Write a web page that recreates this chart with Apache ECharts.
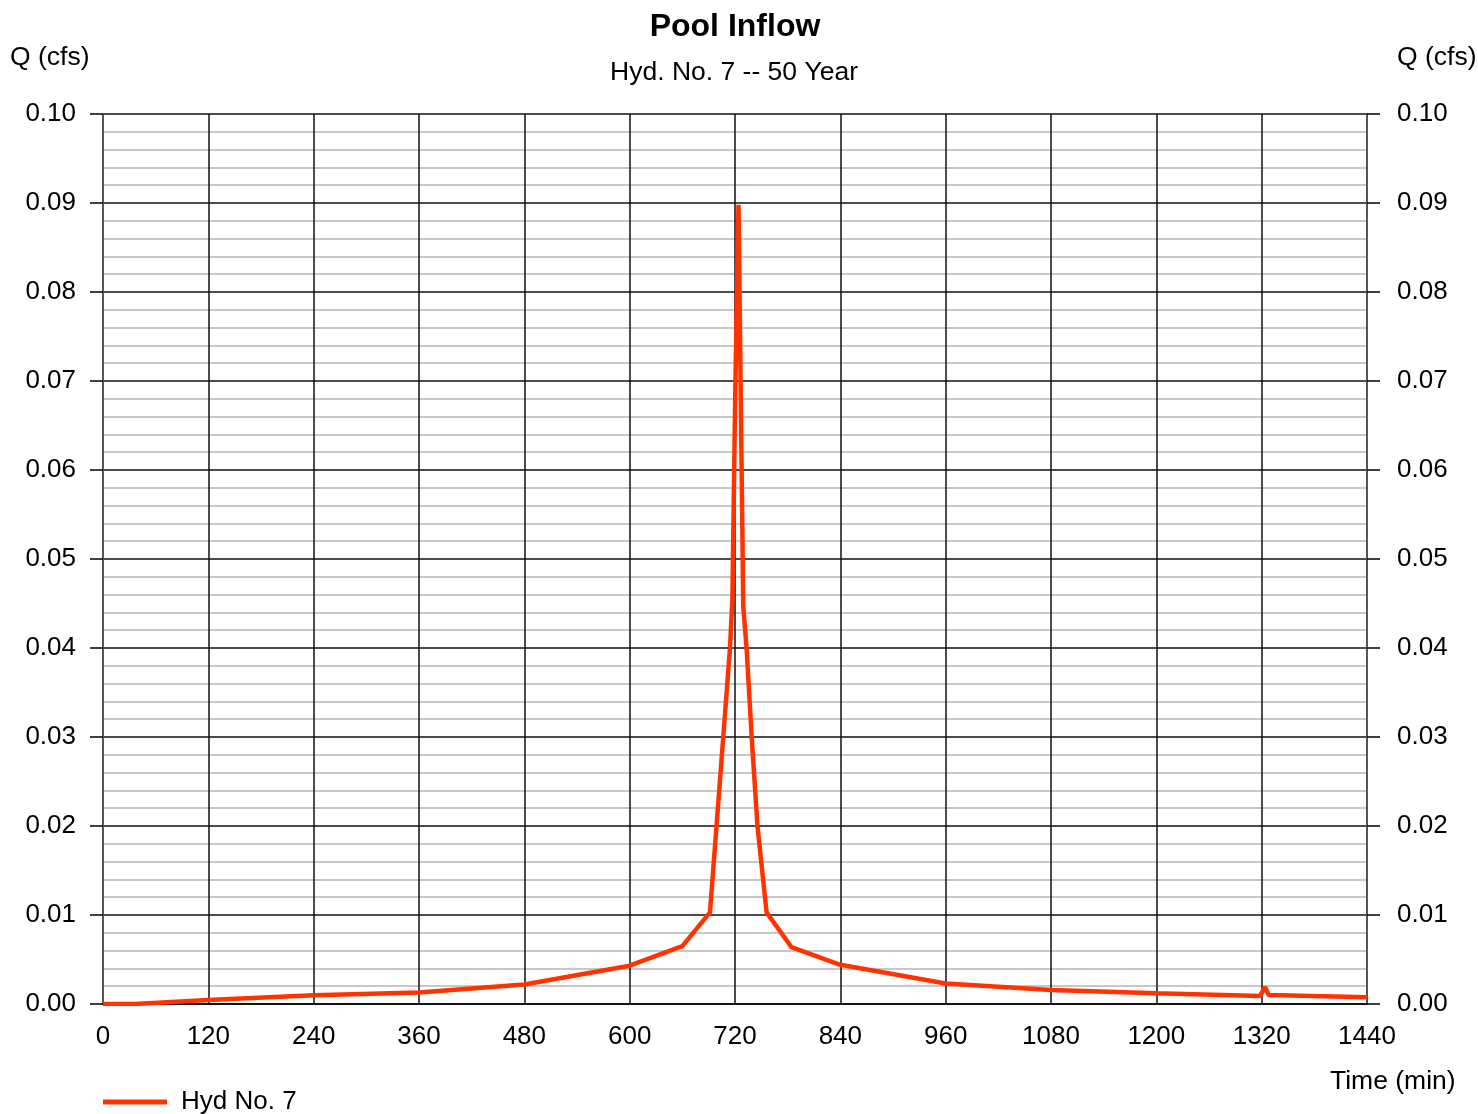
<!DOCTYPE html>
<html>
<head>
<meta charset="utf-8">
<title>Pool Inflow</title>
<script src="https://cdn.jsdelivr.net/npm/echarts@6/dist/echarts.min.js"></script>
<style>
  html, body { margin: 0; padding: 0; background: #fff; }
  #chart { width: 1478px; height: 1114px; }
</style>
</head>
<body>
<div id="chart"></div>
<script>
// 数据：时间 (min) 和流量 Q (cfs)
var timeMin = [0, 36, 120, 240, 360, 480, 600, 660, 691.5, 714.3, 717, 720.5, 724,
               729.4, 733.2, 739, 745.7, 756, 784.2, 840, 960, 1080, 1200, 1318, 1324, 1328, 1440];
var flowCfs = [0, 0, 0.00045, 0.00098, 0.0013, 0.0022, 0.0043, 0.0065, 0.0103, 0.040, 0.0454, 0.070, 0.0898,
               0.0447, 0.040, 0.030, 0.0199, 0.0103, 0.0064, 0.0044, 0.0023, 0.00157, 0.0012, 0.0009, 0.0019, 0.001, 0.00075];
var xTicks = { min: 0, max: 1440, step: 120 };
var yTicks = { min: 0, max: 0.1, step: 0.01 };

var seriesData = timeMin.map(function(t, i) { return [t, flowCfs[i]]; });

var chart = echarts.init(document.getElementById('chart'));

var labelFont = { fontFamily: 'Liberation Sans', fontSize: 26, color: '#000' };
var nameFont = { fontFamily: 'Liberation Sans', fontSize: 26.5, fontWeight: 'normal', color: '#000' };

var option = {
  animation: false,
  backgroundColor: '#fff',
  textStyle: { fontFamily: 'Liberation Sans' },
  // 标题和坐标轴名称
  title: [
    { text: 'Pool Inflow', left: 730, top: 6, textAlign: 'center',
      textStyle: { fontFamily: 'Liberation Sans', fontSize: 32, fontWeight: 'bold', color: '#000' } },
    { text: 'Hyd. No. 7 -- 50 Year', left: 729, top: 54, textAlign: 'center', textStyle: nameFont },
    { text: 'Q (cfs)', left: 5, top: 39, textStyle: nameFont },
    { text: 'Q (cfs)', left: 1392, top: 39, textStyle: nameFont },
    { text: 'Time (min)', left: 1325, top: 1063, textStyle: nameFont }
  ],
  legend: {
    left: 98,
    top: 1084,
    icon: 'rect',
    itemWidth: 64,
    itemHeight: 5,
    textStyle: { fontFamily: 'Liberation Sans', fontSize: 26, color: '#000', padding: [0, 0, 0, 9] },
    data: ['Hyd No. 7']
  },
  grid: { left: 103, right: 111, top: 114, bottom: 110, containLabel: false },
  xAxis: {
    type: 'value',
    min: xTicks.min,
    max: xTicks.max,
    interval: xTicks.step,
    axisLine: { show: true, lineStyle: { color: '#000', width: 1.5 } },
    axisTick: { show: false },
    axisLabel: Object.assign({ margin: 20, formatter: function(v) { return String(v); } }, labelFont),
    splitLine: { show: true, lineStyle: { color: '#111', width: 1.5 } }
  },
  yAxis: [
    {
      type: 'value',
      position: 'left',
      min: yTicks.min,
      max: yTicks.max,
      interval: yTicks.step,
      axisLine: { show: true, lineStyle: { color: '#555', width: 2 } },
      axisTick: { show: true, length: 13, lineStyle: { color: '#000', width: 1.5 } },
      axisLabel: Object.assign({ margin: 27, padding: [7, 0, 0, 0], formatter: function(v) { return v.toFixed(2); } }, labelFont),
      minorTick: { show: false, splitNumber: 5 },
      minorSplitLine: { show: true, lineStyle: { color: '#c8c8c8', width: 2 } },
      splitLine: { show: true, lineStyle: { color: '#111', width: 1.5 } }
    },
    {
      type: 'value',
      position: 'right',
      min: yTicks.min,
      max: yTicks.max,
      interval: yTicks.step,
      axisLine: { show: true, lineStyle: { color: '#555', width: 2 } },
      axisTick: { show: true, length: 13, lineStyle: { color: '#000', width: 1.5 } },
      axisLabel: Object.assign({ margin: 30, padding: [7, 0, 0, 0], formatter: function(v) { return v.toFixed(2); } }, labelFont),
      splitLine: { show: false }
    }
  ],
  series: [{
    name: 'Hyd No. 7',
    type: 'line',
    yAxisIndex: 0,
    showSymbol: false,
    color: '#ff3300',
    lineStyle: { color: '#ff3300', width: 4.5 },
    data: seriesData
  }]
};

chart.setOption(option);
</script>
</body>
</html>
